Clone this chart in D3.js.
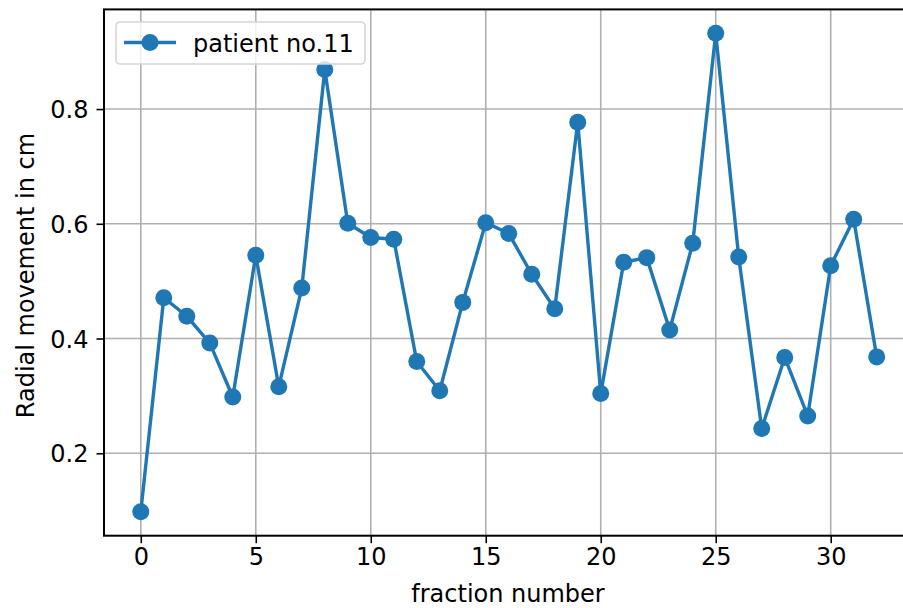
<!DOCTYPE html>
<html>
<head>
<meta charset="utf-8">
<script src="https://cdn.jsdelivr.net/npm/d3@7"></script>
<style>
    html, body { margin: 0; padding: 0; background: #fff; }
    svg { display: block; font-family: 'DejaVu Sans', sans-serif; }
</style>
</head>
<body>
<div id="chart"></div>
<script>
// Data
const fractions = d3.range(0, 33);
const movement = [
    0.098, 0.471, 0.439, 0.392, 0.298, 0.545, 0.316, 0.488, 0.869, 0.601,
    0.576, 0.573, 0.360, 0.309, 0.463, 0.602, 0.583, 0.512, 0.452, 0.777,
    0.304, 0.533, 0.541, 0.415, 0.566, 0.932, 0.542, 0.243, 0.367, 0.265,
    0.527, 0.608, 0.368
];
const xTicks = [0, 5, 10, 15, 20, 25, 30];
const yTicks = [0.2, 0.4, 0.6, 0.8];
const seriesName = 'patient no.11';

const width = 903, height = 608;
const color = '#1f77b4';
const fontSize = 24;

// Plot area (the right spine falls outside the picture, as in the reference)
const plot = { left: 104, right: 913.5, top: 9.4, bottom: 535.7 };

// matplotlib-like 5% margins on the data range
const xPad = (d3.max(fractions) - d3.min(fractions)) * 0.05;
const yExt = d3.extent(movement);
const yPad = (yExt[1] - yExt[0]) * 0.05;

const x = d3.scaleLinear()
    .domain([d3.min(fractions) - xPad, d3.max(fractions) + xPad])
    .range([plot.left, plot.right]);
const y = d3.scaleLinear()
    .domain([yExt[0] - yPad, yExt[1] + yPad])
    .range([plot.bottom, plot.top]);

const svg = d3.select('#chart')
    .append('svg')
    .attr('width', width)
    .attr('height', height);

// Grid lines
const grid = svg.append('g').attr('class', 'grid');
grid.selectAll('.vgrid')
    .data(xTicks)
    .enter()
    .append('line')
    .attr('x1', d => x(d))
    .attr('x2', d => x(d))
    .attr('y1', plot.top)
    .attr('y2', plot.bottom)
    .attr('stroke', '#b0b0b0')
    .attr('stroke-width', 1.6);
grid.selectAll('.hgrid')
    .data(yTicks)
    .enter()
    .append('line')
    .attr('x1', plot.left)
    .attr('x2', plot.right)
    .attr('y1', d => y(d))
    .attr('y2', d => y(d))
    .attr('stroke', '#b0b0b0')
    .attr('stroke-width', 1.6);

// Axes
const xAxis = svg.append('g')
    .attr('transform', `translate(0, ${plot.bottom})`)
    .call(d3.axisBottom(x).tickValues(xTicks).tickSize(7.5).tickPadding(4).tickSizeOuter(0));
const yAxis = svg.append('g')
    .attr('transform', `translate(${plot.left}, 0)`)
    .call(d3.axisLeft(y).tickValues(yTicks).tickFormat(d3.format('.1f')).tickSize(7.5).tickPadding(8).tickSizeOuter(0));

[xAxis, yAxis].forEach(ax => {
    ax.select('.domain').remove();
    ax.selectAll('.tick line').attr('stroke', '#000').attr('stroke-width', 1.6);
    ax.selectAll('.tick text')
        .attr('fill', '#000')
        .style('font-size', `${fontSize}px`)
        .style('font-family', 'DejaVu Sans');
});
xAxis.selectAll('.tick text').attr('dy', '0.76em');
yAxis.selectAll('.tick text').attr('dy', '0.36em');

// Line and markers
const line = d3.line()
    .x((d, i) => x(fractions[i]))
    .y(d => y(d));

svg.append('path')
    .datum(movement)
    .attr('d', line)
    .attr('fill', 'none')
    .attr('stroke', color)
    .attr('stroke-width', 3.4)
    .attr('stroke-linejoin', 'round');

svg.selectAll('.dot')
    .data(movement)
    .enter()
    .append('circle')
    .attr('cx', (d, i) => x(fractions[i]))
    .attr('cy', d => y(d))
    .attr('r', 8.5)
    .attr('fill', color);

// Frame (spines)
svg.append('rect')
    .attr('x', plot.left)
    .attr('y', plot.top)
    .attr('width', plot.right - plot.left)
    .attr('height', plot.bottom - plot.top)
    .attr('fill', 'none')
    .attr('stroke', '#000')
    .attr('stroke-width', 2);

// Axis labels
svg.append('text')
    .attr('x', 508)
    .attr('y', 602)
    .attr('text-anchor', 'middle')
    .style('font-size', `${fontSize}px`)
    .text('fraction number');

svg.append('text')
    .attr('transform', `translate(34, ${(plot.top + plot.bottom) / 2 + 3}) rotate(-90)`)
    .attr('text-anchor', 'middle')
    .style('font-size', `${fontSize}px`)
    .text('Radial movement in cm');

// Legend
const legend = svg.append('g').attr('transform', 'translate(116, 22)');
legend.append('rect')
    .attr('width', 249)
    .attr('height', 42)
    .attr('rx', 4)
    .attr('fill', '#fff')
    .attr('fill-opacity', 0.8)
    .attr('stroke', '#d6d6d6')
    .attr('stroke-width', 1.6);
legend.append('line')
    .attr('x1', 8)
    .attr('x2', 60)
    .attr('y1', 20.5)
    .attr('y2', 20.5)
    .attr('stroke', color)
    .attr('stroke-width', 3.4);
legend.append('circle')
    .attr('cx', 34)
    .attr('cy', 20.5)
    .attr('r', 8.5)
    .attr('fill', color);
legend.append('text')
    .attr('x', 77)
    .attr('y', 29.5)
    .style('font-size', `${fontSize}px`)
    .attr('fill', '#000')
    .text(seriesName);
</script>
</body>
</html>
